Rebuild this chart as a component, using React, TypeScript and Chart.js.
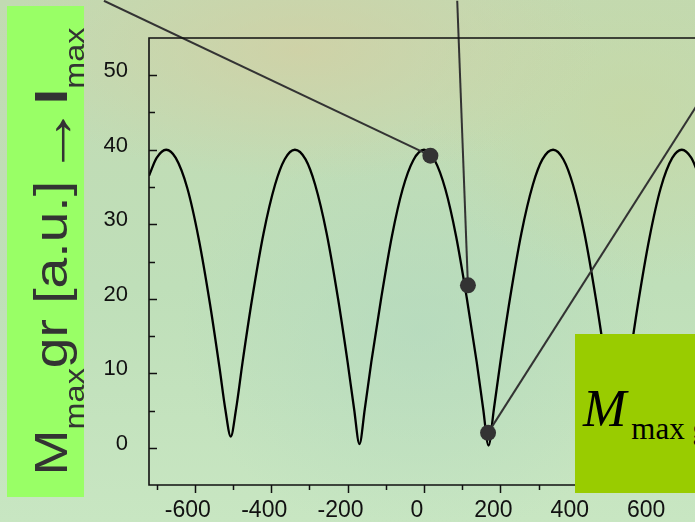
import React, { useEffect, useRef } from "react";
import { Chart, registerables } from "chart.js";

Chart.register(...registerables);

// ---- data ----
const curveX = [-720, -700, -675, -650, -620, -590, -560, -535, -520, -506, -492, -475, -450, -420, -390, -365, -338, -310, -285, -255, -225, -200, -183, -169, -155, -138, -112, -84, -56, -28, 0, 28, 56, 84, 112, 138, 155, 169, 183, 200, 225, 255, 285, 310, 338, 365, 390, 420, 450, 475, 492, 506, 520, 535, 560, 590, 620, 650, 675, 700, 720];
const curveY = [36.5, 38.9, 40, 38.9, 34.9, 28.1, 19.2, 10.6, 5.1, 1.5, 5.2, 11.5, 20, 28.8, 35.3, 38.7, 40, 38.7, 35.3, 28.8, 20, 11.5, 5.2, 0.5, 5.2, 11.5, 20.1, 28.4, 34.7, 38.6, 40, 38.6, 34.7, 28.4, 20.1, 11.5, 5.2, 0.3, 5.2, 11.5, 20, 28.8, 35.3, 38.7, 40, 38.7, 35.3, 28.8, 20, 11.5, 5.2, 1, 5.1, 10.6, 19.2, 28.1, 34.9, 38.9, 40, 38.9, 36.5];

const markerX = [16.7, 115, 167.7];
const markerY = [39.2, 21.8, 2];

// far ends of the callout lines (outside the plotted range)
const calloutEndX = [-838, 87, 889];
const calloutEndY = [60, 60, 60];

const xTickValues = [-600, -400, -200, 0, 200, 400, 600];
const xMinorTicks = [-700, -500, -300, -100, 100, 300, 500, 700];
const yTickValues = [0, 10, 20, 30, 40, 50];
const yMinorTicks = [5, 15, 25, 35, 45];

const X_MIN = -720;
const X_MAX = 720;
const Y_MIN = -5;
const Y_MAX = 55;

const framePlugin = {
  id: "frame",
  afterDraw(chart: any) {
    const { ctx, chartArea: a, scales } = chart;
    const x = scales.x;
    const y = scales.y;
    ctx.save();
    ctx.strokeStyle = "#111";
    ctx.lineWidth = 1.6;
    ctx.beginPath();
    ctx.rect(a.left, a.top, a.right - a.left, a.bottom - a.top);
    ctx.stroke();
    ctx.lineWidth = 1.5;
    ctx.beginPath();
    yTickValues.forEach((v) => {
      const p = Math.round(y.getPixelForValue(v)) + 0.5;
      ctx.moveTo(a.left, p);
      ctx.lineTo(a.left + 8, p);
    });
    yMinorTicks.forEach((v) => {
      const p = Math.round(y.getPixelForValue(v)) + 0.5;
      ctx.moveTo(a.left, p);
      ctx.lineTo(a.left + 6, p);
    });
    xTickValues.forEach((v) => {
      const p = Math.round(x.getPixelForValue(v)) + 0.5;
      ctx.moveTo(p, a.bottom);
      ctx.lineTo(p, a.bottom + 8);
    });
    xMinorTicks.forEach((v) => {
      const p = Math.round(x.getPixelForValue(v)) + 0.5;
      ctx.moveTo(p, a.bottom);
      ctx.lineTo(p, a.bottom + 5);
    });
    ctx.stroke();
    ctx.restore();
  },
};

export default function App() {
  const ref = useRef<HTMLCanvasElement>(null);

  useEffect(() => {
    const curve = curveX.map((x, i) => ({ x, y: curveY[i] }));
    const markers = markerX.map((x, i) => ({ x, y: markerY[i] }));
    const callouts = markerX.map((x, i) => ({
      type: "line" as const,
      data: [
        { x, y: markerY[i] },
        { x: calloutEndX[i], y: calloutEndY[i] },
      ],
      borderColor: "#333",
      borderWidth: 2,
      pointRadius: 0,
      tension: 0,
      clip: false as any,
      order: 1,
    }));

    const chart = new Chart(ref.current as HTMLCanvasElement, {
      type: "line",
      data: {
        datasets: [
          {
            data: markers,
            showLine: false,
            pointRadius: 8,
            pointBackgroundColor: "#333",
            pointBorderWidth: 0,
            borderWidth: 0,
            clip: false as any,
            order: 0,
          },
          ...callouts,
          {
            data: curve,
            borderColor: "#000",
            borderWidth: 2.3,
            pointRadius: 0,
            cubicInterpolationMode: "monotone",
            order: 2,
          },
        ] as any,
      },
      options: {
        responsive: false,
        devicePixelRatio: 1,
        animation: false,
        layout: { padding: { top: 38, right: 21, left: 0, bottom: 0 } },
        plugins: { legend: { display: false }, tooltip: { enabled: false } },
        scales: {
          x: {
            type: "linear",
            min: X_MIN,
            max: X_MAX,
            grid: { display: false, drawTicks: false },
            border: { display: false },
            afterBuildTicks: (s: any) => {
              s.ticks = xTickValues.map((v) => ({ value: v }));
            },
            afterFit: (s: any) => {
              s.height = 37;
            },
            ticks: {
              padding: 12,
              labelOffset: -7,
              color: "#111",
              font: { family: "'Liberation Sans', Arial, sans-serif", size: 23 },
              maxRotation: 0,
              autoSkip: false,
            },
          },
          y: {
            type: "linear",
            min: Y_MIN,
            max: Y_MAX,
            grid: { display: false, drawTicks: false },
            border: { display: false },
            afterBuildTicks: (s: any) => {
              s.ticks = yTickValues.map((v) => ({ value: v }));
            },
            afterFit: (s: any) => {
              s.width = 149;
            },
            ticks: {
              padding: 21,
              labelOffset: -4,
              color: "#111",
              font: { family: "'Liberation Sans', Arial, sans-serif", size: 22 },
              autoSkip: false,
            },
          },
        },
      },
      plugins: [framePlugin],
    });
    return () => chart.destroy();
  }, []);

  return (
    <div
      style={{
        position: "fixed",
        left: 0,
        top: 0,
        width: 695,
        height: 522,
        overflow: "hidden",
        background:
          "radial-gradient(ellipse 300px 130px at 300px 50px, rgba(212,206,162,0.7), rgba(212,206,162,0) 100%)," +
          "radial-gradient(ellipse 220px 170px at 630px 110px, rgba(200,214,160,0.6), rgba(200,214,160,0) 100%)," +
          "radial-gradient(ellipse 240px 210px at 420px 330px, rgba(178,216,192,0.6), rgba(178,216,192,0) 100%)," +
          "linear-gradient(180deg, #c2dab2 0%, #bfdfb9 55%, #c8e6c2 100%)",
      }}
    >
      <canvas
        ref={ref}
        width={720}
        height={522}
        style={{ position: "absolute", left: 0, top: 0, width: 720, height: 522 }}
      />
      <div
        style={{
          position: "absolute",
          left: 7,
          top: 6,
          width: 77,
          height: 491,
          background: "#99ff66",
        }}
      >
        <div
          style={{
            position: "absolute",
            left: (77 - 491) / 2,
            top: (491 - 77) / 2,
            width: 491,
            height: 77,
            transform: "rotate(-90deg) scaleX(1.2)",
            display: "flex",
            justifyContent: "center",
            whiteSpace: "nowrap",
            fontFamily: "'Liberation Sans', Arial, sans-serif",
            fontSize: 46,
            lineHeight: "80px",
            color: "#333",
          }}
        >
          <span>
            M<span style={{ fontSize: 27, position: "relative", top: 17 }}>max</span>gr [a.u.]
            <span style={{ fontSize: 60, position: "relative", top: 6, marginLeft: 4 }}>→</span>
            <span style={{ fontWeight: 700 }}>I</span>
            <span style={{ fontSize: 27, position: "relative", top: 17 }}>max</span>
          </span>
        </div>
      </div>
      <div
        style={{
          position: "absolute",
          left: 575,
          top: 334,
          width: 140,
          height: 159,
          background: "#99cc00",
          overflow: "hidden",
        }}
      >
        <div
          style={{
            position: "absolute",
            left: 8,
            top: 49,
            whiteSpace: "nowrap",
            fontFamily: "'Liberation Serif', 'Times New Roman', serif",
            fontSize: 52,
            lineHeight: "52px",
            color: "#000",
          }}
        >
          <i>M</i>
          <span style={{ fontSize: 31, position: "relative", top: 13, marginLeft: 5 }}>max gr</span>
        </div>
      </div>
    </div>
  );
}
